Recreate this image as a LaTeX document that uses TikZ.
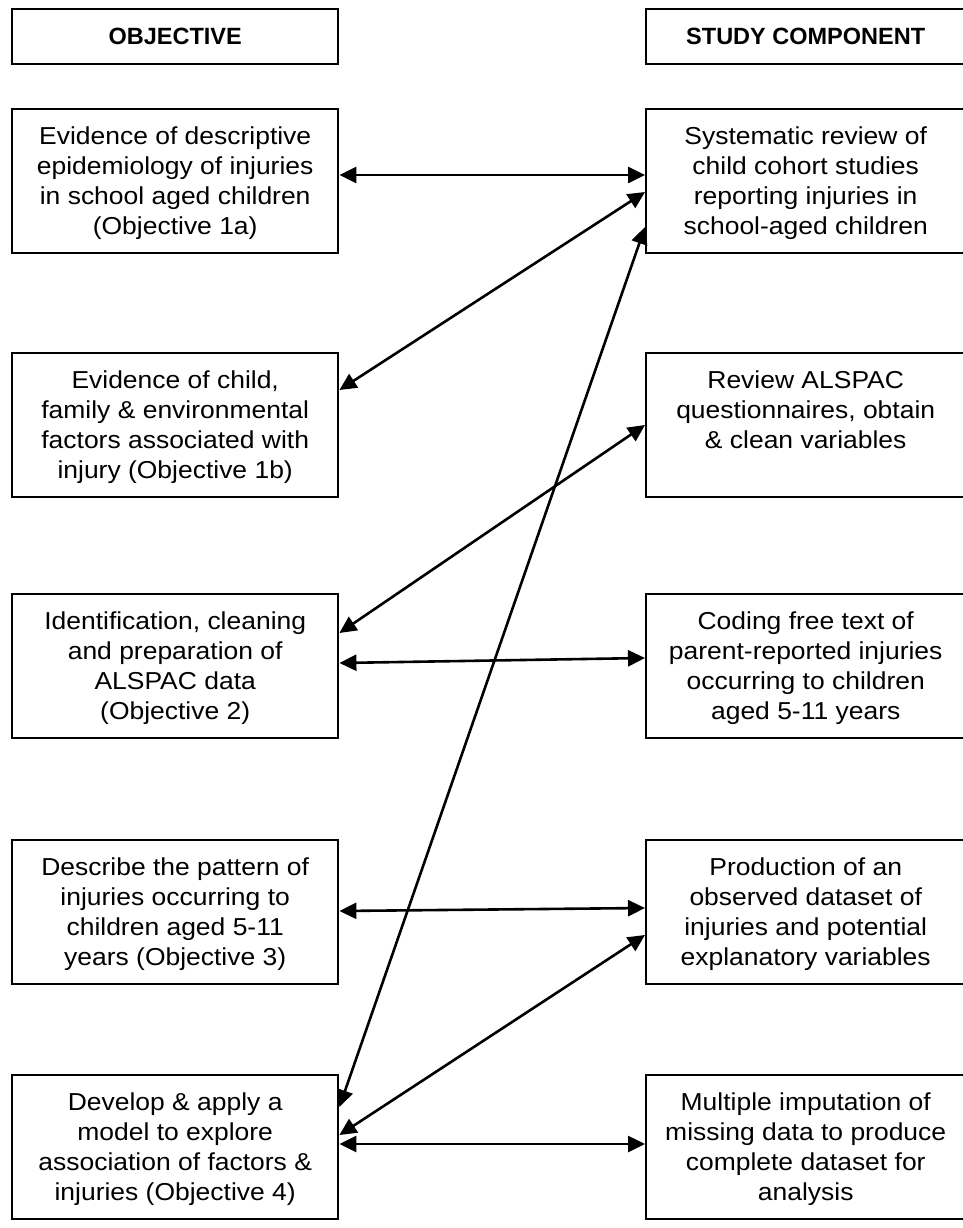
\documentclass[tikz,border=0pt]{standalone}
\usepackage{fontspec}
\setmainfont{Liberation Sans}
\newfontfamily\bodyfont[FakeStretch=1.08]{Liberation Sans}
\usetikzlibrary{arrows.meta}

% box contents: fixed-size parbox, text centred and hung from the top
\newcommand{\cellbody}[2]{\parbox[c][144pt][t]{#1}{\centering\bodyfont\fontsize{24.5pt}{30pt}\selectfont\rule{0pt}{35pt}#2}}
\newcommand{\cellhead}[2]{\parbox[c][55pt][c]{#1}{\centering\bfseries\fontsize{23.5pt}{28pt}\selectfont #2}}

\tikzset{
  framebox/.style={draw, line width=2.4pt, inner sep=0pt, anchor=north west},
  link/.style={{Triangle[length=17pt,width=16pt]}-{Triangle[length=17pt,width=16pt]}, line width=2.6pt}
}

\begin{document}
\begin{tikzpicture}[x=1pt,y=-1pt]
\useasboundingbox (0,0) rectangle (963,1228);

% column headings
\node[framebox] (hobj) at (11,8) {\cellhead{326pt}{OBJECTIVE}};
\node[framebox] (hstu) at (645,8) {\cellhead{319pt}{STUDY COMPONENT}};

% objectives
\node[framebox] (o1) at (11,108) {\cellbody{326pt}{Evidence of descriptive\\epidemiology of injuries\\in school aged children\\(Objective 1a)}};
\node[framebox] (o2) at (11,352) {\cellbody{326pt}{Evidence of child,\\family \& environmental\\factors associated with\\injury (Objective 1b)}};
\node[framebox] (o3) at (11,593) {\cellbody{326pt}{Identification, cleaning\\and preparation of\\ALSPAC data\\(Objective 2)}};
\node[framebox] (o4) at (11,839) {\cellbody{326pt}{Describe the pattern of\\injuries occurring to\\children aged 5-11\\years (Objective 3)}};
\node[framebox] (o5) at (11,1074) {\cellbody{326pt}{Develop \& apply a\\model to explore\\association of factors \&\\injuries (Objective 4)}};

% study components
\node[framebox] (s1) at (645,108) {\cellbody{319pt}{Systematic review of\\child cohort studies\\reporting injuries in\\school-aged children}};
\node[framebox] (s2) at (645,352) {\cellbody{319pt}{Review ALSPAC\\questionnaires, obtain\\\& clean variables}};
\node[framebox] (s3) at (645,593) {\cellbody{319pt}{Coding free text of\\parent-reported injuries\\occurring to children\\aged 5-11 years}};
\node[framebox] (s4) at (645,839) {\cellbody{319pt}{Production of an\\observed dataset of\\injuries and potential\\explanatory variables}};
\node[framebox] (s5) at (645,1074) {\cellbody{319pt}{Multiple imputation of\\missing data to produce\\complete dataset for\\analysis}};

% links between objectives and study components
\draw[link] ([yshift=-67pt]o1.north east) -- ([yshift=-67pt]s1.north west);
\draw[link] ([yshift=-38pt]o2.north east) -- ([yshift=-84pt]s1.north west);
\draw[link] ([yshift=-33pt]o5.north east) -- ([yshift=-119pt]s1.north west);
\draw[link] ([yshift=-40pt]o3.north east) -- ([yshift=-73pt]s2.north west);
\draw[link] ([yshift=-70pt]o3.north east) -- ([yshift=-65pt]s3.north west);
\draw[link] ([yshift=-72pt]o4.north east) -- ([yshift=-69pt]s4.north west);
\draw[link] ([yshift=-61pt]o5.north east) -- ([yshift=-96pt]s4.north west);
\draw[link] ([yshift=-70pt]o5.north east) -- ([yshift=-70pt]s5.north west);
\end{tikzpicture}
\end{document}
